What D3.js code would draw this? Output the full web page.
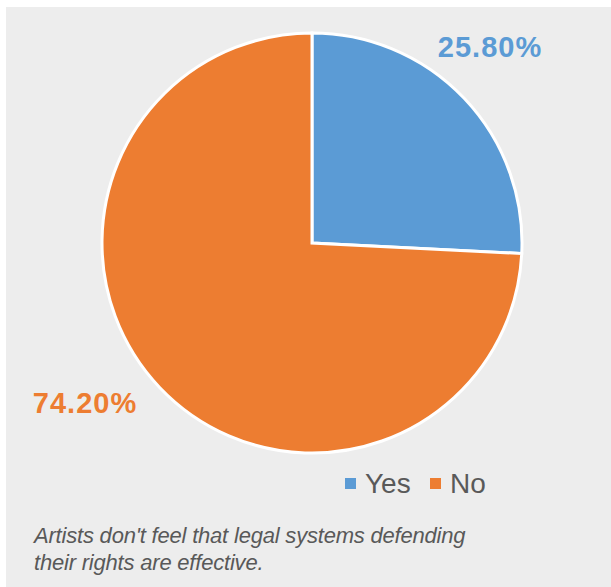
<!DOCTYPE html>
<html>
<head>
	<meta charset="utf-8">
	<style>
		body {
			margin: 0;
			background-color: white;
			font-family: "Liberation Sans", Arial, sans-serif;
		}
		svg {
			display: block;
		}
		.slice {
			stroke: white;
			stroke-width: 3px;
		}
		.pct-label {
			font-weight: bold;
			font-size: 29px;
			letter-spacing: 1px;
		}
		.legend-text {
			font-size: 28px;
			fill: #595959;
		}
		.caption {
			font-size: 22px;
			font-style: italic;
			fill: #595959;
			letter-spacing: -0.2px;
		}
	</style>
</head>
<body>
<script src="https://d3js.org/d3.v7.min.js"></script>
<script>
	var categories = ["Yes", "No"];
	var values = [25.8, 74.2];
	var labels = ["25.80%", "74.20%"];
	var colors = ["#5b9bd5", "#ed7d31"];
	var captionLines = ["Artists don't feel that legal systems defending", "their rights are effective."];

	var width = 611,
		height = 587,
		cx = 312,
		cy = 243,
		radius = 210;

	var data = categories.map(function(c, i) {
		return {name: c, value: values[i], label: labels[i], color: colors[i]};
	});

	var svg = d3.select("body").append("svg")
			.attr("width", width)
			.attr("height", height);

	// grey panel
	svg.append("rect")
			.attr("x", 6)
			.attr("y", 7)
			.attr("width", width - 6)
			.attr("height", height - 7)
			.attr("fill", "#ededed");

	var pie = d3.pie()
			.sort(null)
			.value(function(d) { return d.value; });

	var arc = d3.arc()
			.innerRadius(0)
			.outerRadius(radius);

	var g = svg.append("g")
			.attr("transform", "translate(" + cx + "," + cy + ")");

	g.selectAll("path")
			.data(pie(data))
		.enter().append("path")
			.attr("class", "slice")
			.attr("d", arc)
			.attr("fill", function(d) { return d.data.color; });

	// outside labels, placed off the slice edge
	var labelPos = [[178, -186], [-227, 170]];
	g.selectAll(".pct-label")
			.data(data)
		.enter().append("text")
			.attr("class", "pct-label")
			.attr("text-anchor", "middle")
			.attr("x", function(d, i) { return labelPos[i][0]; })
			.attr("y", function(d, i) { return labelPos[i][1]; })
			.attr("fill", function(d) { return d.color; })
			.text(function(d) { return d.label; });

	// legend
	var legend = svg.append("g")
			.attr("transform", "translate(345,478)");
	var legendX = [0, 85];
	var items = legend.selectAll("g")
			.data(data)
		.enter().append("g")
			.attr("transform", function(d, i) { return "translate(" + legendX[i] + ",0)"; });
	items.append("rect")
			.attr("width", 11)
			.attr("height", 11)
			.attr("fill", function(d) { return d.color; });
	items.append("text")
			.attr("class", "legend-text")
			.attr("x", 20)
			.attr("y", 15)
			.text(function(d) { return d.name; });

	// caption
	svg.append("g")
		.selectAll("text")
			.data(captionLines)
		.enter().append("text")
			.attr("class", "caption")
			.attr("x", 34)
			.attr("y", function(d, i) { return 543 + i * 27; })
			.text(function(d) { return d; });
</script>
</body>
</html>
